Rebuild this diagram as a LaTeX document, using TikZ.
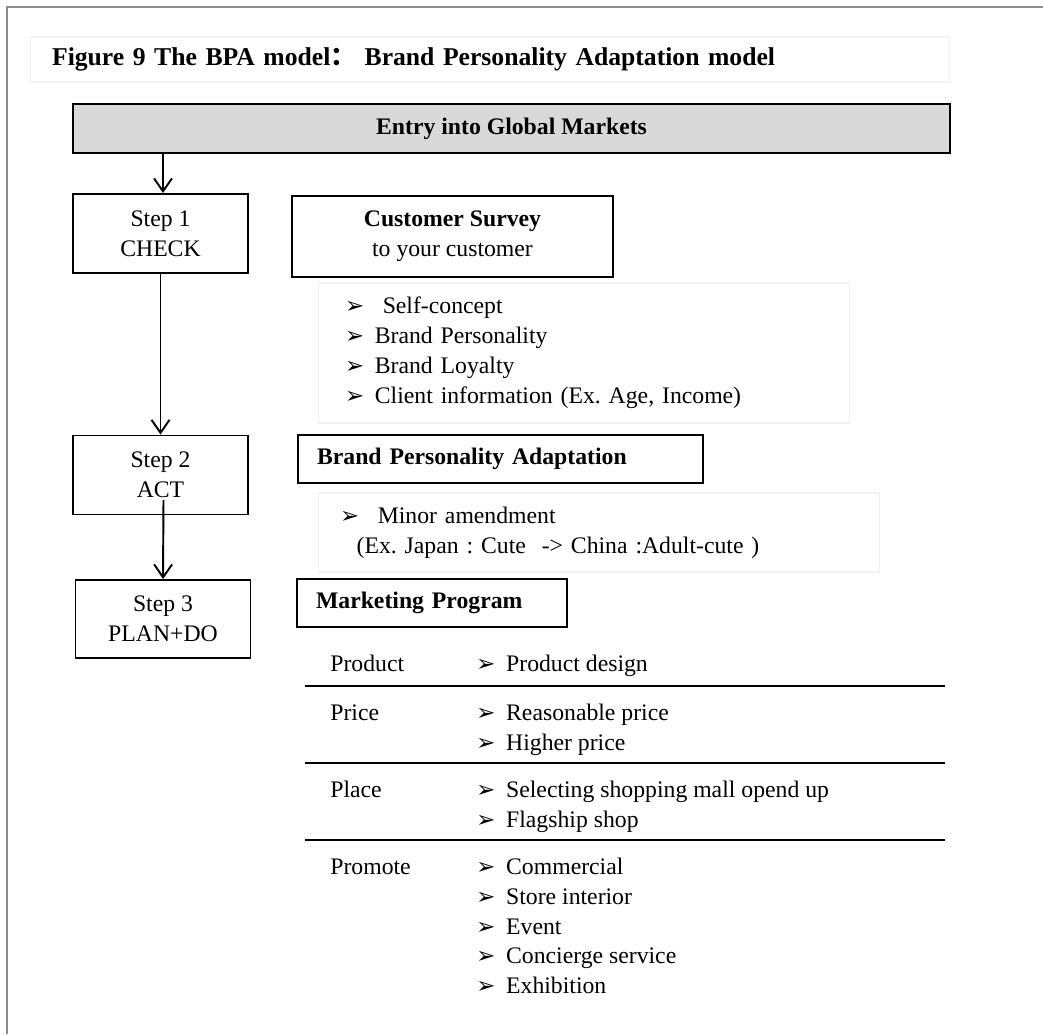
\documentclass[tikz,border=0pt]{standalone}
\usepackage{fontspec}
\setmainfont{Liberation Serif}
\newfontfamily\symfont{DejaVu Sans}
\newfontfamily\cjk{Noto Sans CJK SC}
\usetikzlibrary{arrows.meta,positioning}

\newcommand{\bul}{{\symfont\fontsize{13}{13}\selectfont ➢}\hspace{0.45em}}

\begin{document}
\fontsize{13.5}{17}\selectfont\frenchspacing
\begin{tikzpicture}[
    x=0.02cm, y=-0.02cm,
    box/.style={rectangle,draw,line width=1.1pt,inner sep=0pt,align=center},
    stepbox/.style={box,minimum width=3.5cm,minimum height=1.58cm},
    headbox/.style={box,minimum height=0.96cm,align=left,inner xsep=0.38cm,font=\bfseries},
    listbox/.style={rectangle,draw=black!5,line width=0.6pt,align=left},
    lab/.style={anchor=north west,inner sep=0pt},
    items/.style={anchor=north west,inner sep=0pt,align=left},
    rule/.style={line width=1.3pt},
    arrow/.style={-{Straight Barb[length=2.6mm,width=3.6mm]},line width=1.1pt}
]
\useasboundingbox (0,0) rectangle (1043,1034);

% Frame
\draw[black!45,line width=0.9pt] (7,1034) -- (7,7) -- (1043,7);

% Title
\node[listbox,minimum width=18.4cm,minimum height=0.9cm,text width=17.52cm,inner xsep=0.44cm,
      font=\fontsize{14.6}{17}\selectfont\bfseries]
    (title) at (490,59.5) {Figure 9 The BPA model{\cjk ：} Brand Personality Adaptation model};

% Entry
\node[box,fill=black!15,line width=1.5pt,minimum width=17.54cm,minimum height=0.98cm,font=\bfseries]
    (entry) at (511.5,128.5) {Entry into Global Markets};

% Steps
\node[stepbox] (step1) at (160.5,233.5) {Step 1\\CHECK};
\node[stepbox] (step2) at (160.5,475) {Step 2\\ACT};
\node[stepbox,minimum height=1.56cm] (step3) at (163,619) {Step 3\\PLAN+DO};

% Step 1 content
\node[box,minimum width=6.42cm,minimum height=1.62cm] (survey) at (452.5,236.5)
    {\textbf{Customer Survey}\\to your customer};
\node[listbox,minimum width=10.64cm,minimum height=2.8cm,text width=9.56cm,inner xsep=0.54cm]
    (surveylist) at (584,353)
    {\bul\ Self-concept\\
     \bul Brand Personality\\
     \bul Brand Loyalty\\
     \bul Client information (Ex. Age, Income)};

% Step 2 content
\node[headbox,minimum width=8.1cm,text width=7.34cm] (bpa) at (500.5,459)
    {Brand Personality Adaptation};
\node[listbox,minimum width=11.24cm,minimum height=1.58cm,text width=10.36cm,inner xsep=0.44cm]
    (bpalist) at (599,532.5)
    {\bul\ Minor amendment\\
     \hspace*{0.7em}(Ex. Japan : Cute\ \ -> China :Adult-cute )};

% Step 3 content
\node[headbox,minimum width=5.4cm,text width=4.64cm] (program) at (432,603)
    {Marketing Program};

\node[lab] (product) at (330,650) {\strut Product};
\node[items] (productitems) at (476,650) {\strut\bul Product design};
\draw[rule] (305,686) -- (945,686);
\node[lab] (price) at (330,699) {\strut Price};
\node[items] (priceitems) at (476,699) {\strut\bul Reasonable price\\\bul Higher price};
\draw[rule] (305,763) -- (945,763);
\node[lab] (place) at (330,776) {\strut Place};
\node[items] (placeitems) at (476,776) {\strut\bul Selecting shopping mall opend up\\\bul Flagship shop};
\draw[rule] (305,840) -- (945,840);
\node[lab] (promote) at (330,853) {\strut Promote};
\node[items] (promoteitems) at (476,853)
    {\strut\bul Commercial\\\bul Store interior\\\bul Event\\\bul Concierge service\\\bul Exhibition};

% Connections
\draw[arrow] (entry.south -| 163,0) -- (step1.north -| 163,0);
\draw[arrow] (step1.south) -- (step2.north);
\draw[arrow] ([xshift=0.06cm,yshift=-0.5cm]step2.center) -- (step3.north);

\end{tikzpicture}
\end{document}
